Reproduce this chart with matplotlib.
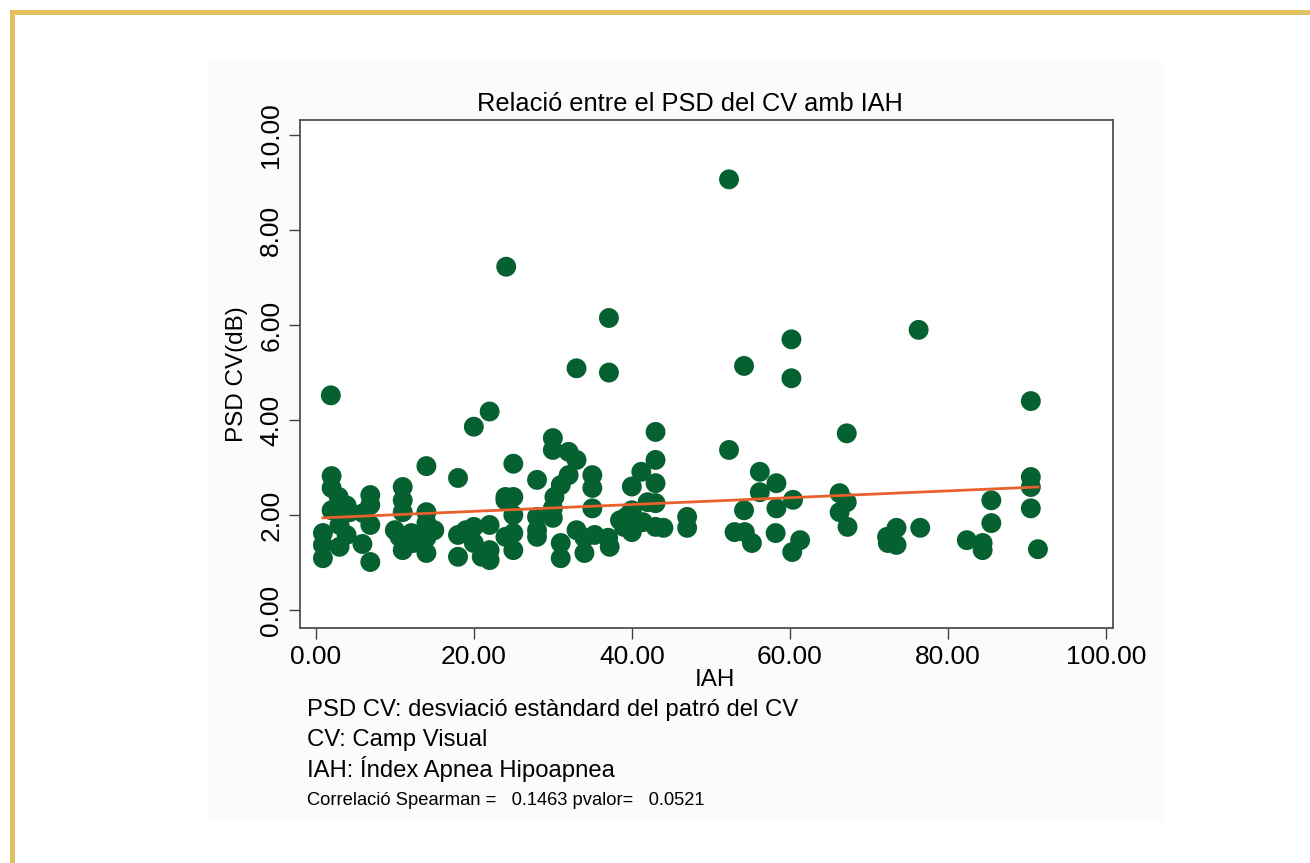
import matplotlib.pyplot as plt
from matplotlib.patches import Rectangle

plt.rcParams['font.family'] = ['Liberation Sans', 'DejaVu Sans']

# IAH (x) and PSD CV in dB (y), one pair per patient
iah = [52.3, 24.1, 37.1, 37.1, 33.0, 1.9, 60.2, 60.2, 54.2, 76.3, 90.5, 67.2,
       52.3, 43.0, 22.0, 20.0, 14.0, 18.0, 25.0,
       2.0, 2.0, 2.9, 3.9, 2.0, 4.3, 0.9, 0.9, 0.9, 3.0, 3.9, 3.0, 5.9, 6.9,
       6.9, 6.9, 6.9, 6.0, 11.0, 11.0, 11.0, 10.0, 10.6, 11.0, 12.1, 12.3,
       14.0, 14.0, 15.0, 14.0, 14.0, 18.0, 18.0, 19.0, 20.0, 20.0, 22.0,
       22.0, 21.0, 22.0, 24.0,
       28.0, 30.0, 30.0, 32.0, 33.0, 32.0, 31.0, 30.2, 30.0, 30.0, 25.0,
       24.0, 25.0, 25.0, 25.0, 24.0, 28.0, 28.0, 28.0, 31.0, 31.0, 33.0,
       34.0, 34.0, 35.3, 37.2, 37.0, 35.0, 35.0, 35.0, 43.0, 43.0, 41.2,
       40.0, 40.0, 39.3, 42.0, 43.0, 40.0, 41.4, 43.0, 44.0, 47.0, 47.0,
       39.0, 38.5,
       56.2, 58.3, 56.2, 60.4, 58.3, 54.2, 53.0, 54.3, 55.2, 58.2, 61.3,
       60.3, 66.3, 67.2, 66.3, 67.3, 72.3, 73.5, 72.4, 73.5,
       90.5, 90.5, 90.5, 91.4, 85.5, 85.5, 84.4, 84.4, 82.4, 76.5]
psd = [9.07, 7.23, 6.15, 5.00, 5.09, 4.52, 5.70, 4.88, 5.14, 5.90, 4.40, 3.72,
       3.37, 3.75, 4.18, 3.86, 3.03, 2.78, 3.08,
       2.82, 2.57, 2.38, 2.20, 2.10, 2.06, 1.62, 1.37, 1.09, 1.33, 1.58,
       1.79, 1.39, 1.01, 2.42, 2.21, 1.79, 2.04, 2.59, 2.31, 2.06, 1.68,
       1.54, 1.26, 1.62, 1.41, 2.06, 1.83, 1.68, 1.52, 1.20, 1.58, 1.12,
       1.68, 1.41, 1.75, 1.79, 1.26, 1.12, 1.05, 2.31,
       2.74, 3.62, 3.37, 3.33, 3.16, 2.84, 2.63, 2.38, 2.14, 1.94, 2.38,
       2.38, 2.00, 1.62, 1.26, 1.54, 1.96, 1.68, 1.54, 1.41, 1.09, 1.68,
       1.52, 1.20, 1.58, 1.33, 1.52, 2.84, 2.57, 2.14, 3.16, 2.67, 2.91,
       2.60, 2.10, 1.96, 2.27, 2.25, 1.64, 1.85, 1.75, 1.73, 1.96, 1.73,
       1.75, 1.89,
       2.91, 2.67, 2.48, 2.32, 2.14, 2.10, 1.64, 1.64, 1.41, 1.62, 1.47,
       1.22, 2.46, 2.27, 2.06, 1.75, 1.54, 1.73, 1.41, 1.37,
       2.80, 2.59, 2.14, 1.28, 2.31, 1.83, 1.41, 1.26, 1.47, 1.73]

# linear fit line, start and end
fit_x = [0.9, 91.4]
fit_y = [1.94, 2.59]

xticks = [0, 20, 40, 60, 80, 100]
yticks = [0, 2, 4, 6, 8, 10]

notes = ['PSD CV: desviació estàndard del patró del CV',
         'CV: Camp Visual',
         'IAH: Índex Apnea Hipoapnea']
corr_text = 'Correlació Spearman =   0.1463 pvalor=   0.0521'

fig = plt.figure(figsize=(13.1, 8.63), dpi=100)

# faint grey panel behind the graph
fig.patches.append(Rectangle((207 / 1310, 1 - 822 / 863), (1163 - 207) / 1310,
                             (822 - 60) / 863, transform=fig.transFigure,
                             facecolor='#fafbfb', edgecolor='none', zorder=-5))
# gold frame, top and left
fig.patches.append(Rectangle((10 / 1310, 1 - 15 / 863), 1, 5 / 863,
                             transform=fig.transFigure, facecolor='#e0c060',
                             edgecolor='none', zorder=-4))
fig.patches.append(Rectangle((10 / 1310, 0), 5 / 1310, 1 - 10 / 863,
                             transform=fig.transFigure, facecolor='#e0c060',
                             edgecolor='none', zorder=-4))

ax = fig.add_axes([300 / 1310, 1 - 628 / 863, 813 / 1310, 508 / 863])
ax.set_zorder(2)
ax.set_facecolor('white')
ax.scatter(iah, psd, s=205, color='#05612f', edgecolors='none', zorder=2)
ax.plot(fit_x, fit_y, color='#e8602c', lw=2.0, zorder=3)

ax.set_xlim(-2.0, 100.9)
ax.set_ylim(-0.38, 10.32)
ax.set_xticks(xticks)
ax.set_yticks(yticks)
ax.set_xticklabels(['%.2f' % v for v in xticks], fontsize=19)
ax.set_yticklabels(['%.2f' % v for v in yticks], fontsize=19, rotation=90,
                   va='center')
ax.tick_params(direction='out', length=8, width=1.0, color='#404040', pad=4)
for sp in ax.spines.values():
    sp.set_color('#505050')
    sp.set_linewidth(1.3)

fig.text(690 / 1310, 1 - 104 / 863, 'Relació entre el PSD del CV amb IAH',
         fontsize=18.3, ha='center', va='center')
ax.set_xlabel('IAH', fontsize=17.5)
ax.xaxis.set_label_coords((715 - 300) / 813, -0.08)
ax.set_ylabel('PSD CV(dB)', fontsize=17.5)
ax.yaxis.set_label_coords(-(300 - 248) / 813, 0.5)

for i, t in enumerate(notes):
    fig.text(307 / 1310, 1 - (710 + 29.5 * i) / 863, t, fontsize=17.2,
             va='center', ha='left')
fig.text(307 / 1310, 1 - 800 / 863, corr_text, fontsize=13.2,
         va='center', ha='left')

fig.savefig('out.png', dpi=100)
